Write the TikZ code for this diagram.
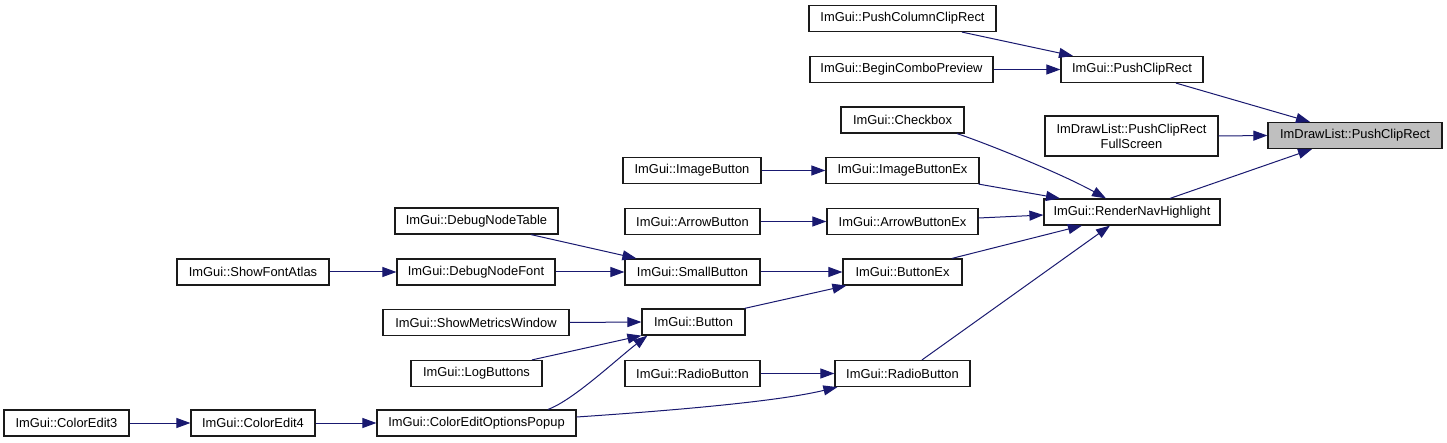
\documentclass[tikz,border=0pt]{standalone}
\usepackage{fontspec}
\setmainfont{Liberation Sans}
\usepackage{xcolor}
\usepackage{tikz}
\usetikzlibrary{arrows.meta,calc}
\definecolor{callblue}{HTML}{191970}
\definecolor{fnframe}{HTML}{1A1A1A}
\definecolor{fngreybg}{HTML}{BFBFBF}
\tikzset{
  fnbox/.style={draw=fnframe,line width=1.2pt,fill=white,inner sep=0pt,
    minimum height=26pt,align=center,font=\fontsize{12.9}{15}\selectfont},
  call/.style={draw=callblue,line width=1pt,-{Triangle[length=14pt,width=10pt]}}
}
\begin{document}
\begin{tikzpicture}[x=1pt,y=-1pt]
  \fill[white] (0,0) rectangle (1447,443);
  \useasboundingbox (0,0) rectangle (1447,443);
  \foreach \nm/\cx/\cy/\w/\lab in {
      pccr/902.5/18.5/187/ImGui::PushColumnClipRect,
      bcp/901.5/69.5/183/ImGui::BeginComboPreview,
      gpcr/1132/69.5/142/ImGui::PushClipRect,
      chk/902.5/120/123/ImGui::Checkbox,
      imb/692/170.5/138/ImGui::ImageButton,
      imbx/902.5/170.5/153/ImGui::ImageButtonEx,
      rnh/1132/212/176/ImGui::RenderNavHighlight,
      dnt/476.5/221/163/ImGui::DebugNodeTable,
      ab/692.5/221.5/135/ImGui::ArrowButton,
      abx/902.5/221.5/151/ImGui::ArrowButtonEx,
      sfa/253/272/152/ImGui::ShowFontAtlas,
      dnf/476/272/158/ImGui::DebugNodeFont,
      sb/692.5/272/135/ImGui::SmallButton,
      bx/902.5/272/119/ImGui::ButtonEx,
      smw/476/322.5/186/ImGui::ShowMetricsWindow,
      btn/693.5/322/103/ImGui::Button,
      lb/476.5/373.5/131/ImGui::LogButtons,
      rbl/692.5/373.5/135/ImGui::RadioButton,
      rbr/902.5/373.5/135/ImGui::RadioButton,
      ce3/66.5/423/125/ImGui::ColorEdit3,
      ce4/253/423/124/ImGui::ColorEdit4,
      cep/476.5/423/199/ImGui::ColorEditOptionsPopup} {
    \node[fnbox,minimum width=\w] (\nm) at (\cx,\cy) {\lab};
  }
  \node[fnbox,minimum width=173,minimum height=40] (fs) at (1131.5,136) {ImDrawList::PushClipRect\\FullScreen};
  \node[fnbox,fill=fngreybg,minimum width=174] (dlpcr) at (1355,135.5) {ImDrawList::PushClipRect};

  \foreach \a/\b in {bcp/gpcr,fs/dlpcr,imb/imbx,ab/abx,sfa/dnf,dnf/sb,sb/bx,
      smw/btn,rbl/rbr,ce3/ce4,ce4/cep}
    \draw[call] (\a.east) -- (\b.west);

  \draw[call] ([xshift=59.5]pccr.south) -- ([xshift=-59]gpcr.north);
  \draw[call] ([xshift=44]gpcr.south) -- ([xshift=-45]dlpcr.north);
  \draw[call] ([xshift=38]rnh.north) -- ([xshift=-43]dlpcr.south);
  \draw[call] ([xshift=54.5]chk.south) .. controls +(30,10) and +(-45,-25) .. ([xshift=-26]rnh.north);
  \draw[call] ([xshift=-1]imbx.south east) -- ([xshift=-72]rnh.north);
  \draw[call] ([yshift=3.5]abx.east) -- ([yshift=-3]rnh.west);
  \draw[call] ([xshift=49.5]bx.north) -- ([xshift=-50]rnh.south);
  \draw[call] ([xshift=19.5]rbr.north) -- ([xshift=-22]rnh.south);
  \draw[call] ([xshift=-1]btn.north east) -- ([xshift=4]bx.south west);
  \draw[call] ([xshift=54.5]dnt.south) -- ([xshift=12]sb.north west);
  \draw[call] ([xshift=55.5]lb.north) -- ([xshift=0]btn.south west);
  \draw[call] ([xshift=71.5]cep.north) .. controls +(25,-9) and +(-30,23) .. ([xshift=6]btn.south west);
  \draw[call] ([yshift=6]cep.east) .. controls +(104,-7) and +(-58,14) .. ([xshift=3]rbr.south west);
\end{tikzpicture}
\end{document}
